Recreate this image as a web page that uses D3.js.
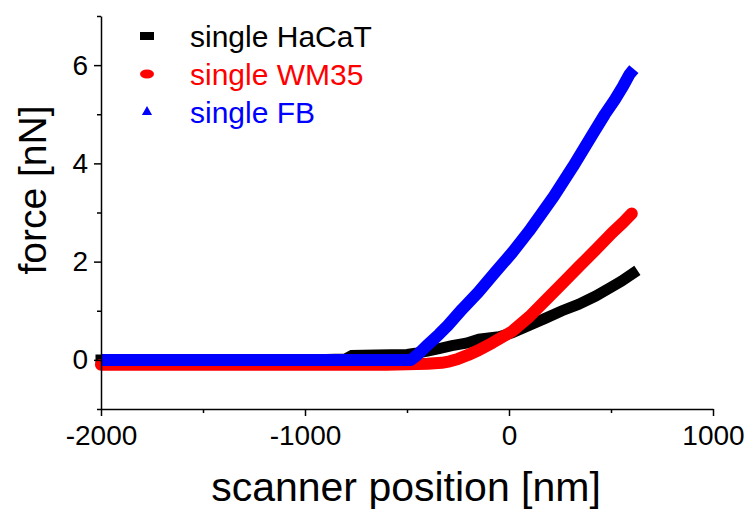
<!DOCTYPE html>
<html>
<head>
<meta charset="utf-8">
<script src="https://cdn.jsdelivr.net/npm/d3@7"></script>
<style>
  body { margin: 0; background: #fff; }
  svg text { font-family: "Liberation Sans", Arial, sans-serif; }
</style>
</head>
<body>
<svg id="chart" width="750" height="512"></svg>
<script>
// single HaCaT (black squares)
const hacatX = [-2000, -1800, -1500, -1200, -1000, -800, -770, -650, -500, -450, -400, -343, -280, -210, -147, -49, 15, 98, 180, 260, 340, 425, 500, 550, 607]
const hacatY = [0, 0, 0, 0, 0, 0.02, 0.09, 0.1, 0.11, 0.14, 0.18, 0.23, 0.29, 0.34, 0.42, 0.47, 0.55, 0.7, 0.85, 1.0, 1.13, 1.3, 1.48, 1.6, 1.76]

// single WM35 (red circles)
const wm35X = [-2000, -1800, -1600, -1400, -1200, -1000, -800, -600, -400, -330, -290, -250, -200, -147, -80, 15, 100, 181, 260, 343, 425, 504, 560, 602]
const wm35Y = [-0.1, -0.1, -0.1, -0.1, -0.1, -0.1, -0.1, -0.1, -0.08, -0.06, -0.03, 0.02, 0.1, 0.2, 0.35, 0.58, 0.88, 1.22, 1.55, 1.9, 2.24, 2.58, 2.8, 2.98]

// single FB (blue triangles)
const fbX = [-2000, -1800, -1500, -1200, -1000, -800, -600, -480, -450, -400, -343, -300, -230, -150, -64, 15, 98, 160, 220, 313, 411, 470, 519, 560, 592, 612]
const fbY = [0, 0, 0, 0, 0, 0, 0, 0, 0.1, 0.3, 0.52, 0.7, 1.03, 1.38, 1.8, 2.18, 2.62, 2.98, 3.33, 3.93, 4.6, 5.0, 5.3, 5.58, 5.82, 5.92]

const seriesNames = ['single HaCaT', 'single WM35', 'single FB']
const seriesColors = ['#000000', '#ff0000', '#0000ff']

const xMajor = [-2000, -1000, 0, 1000]
const xMinor = [-1500, -500, 500]
const yMajor = [0, 2, 4, 6]
const yMinor = [-1, 1, 3, 5, 7]

const svg = d3.select('#chart')

let x = d3.scaleLinear().domain([-2000, 1000]).range([101, 713])
let y = d3.scaleLinear().domain([-1, 7]).range([409, 16])

let line = d3.line()
  .x(d => x(d[0]))
  .y(d => y(d[1]))

let series = [
  { pts: d3.zip(hacatX, hacatY), color: seriesColors[0], width: 11, cap: 'square', join: 'miter' },
  { pts: d3.zip(wm35X, wm35Y), color: seriesColors[1], width: 12, cap: 'round', join: 'round' },
  { pts: d3.zip(fbX, fbY), color: seriesColors[2], width: 12, cap: 'butt', join: 'round' }
]

svg.append('g')
  .selectAll('path')
  .data(series)
  .enter()
  .append('path')
  .attr('d', d => line(d.pts))
  .attr('fill', 'none')
  .attr('stroke', d => d.color)
  .attr('stroke-width', d => d.width)
  .attr('stroke-linecap', d => d.cap)
  .attr('stroke-linejoin', d => d.join)

// axes
let xAxis = svg.append('g')
  .attr('transform', 'translate(0,409)')
  .call(d3.axisBottom(x).tickValues(xMajor).tickSize(7).tickSizeOuter(0).tickPadding(9)
    .tickFormat(d => String(d)))
xAxis.append('g')
  .call(d3.axisBottom(x).tickValues(xMinor).tickSize(4).tickFormat(''))
  .select('.domain').remove()

let yAxis = svg.append('g')
  .attr('transform', 'translate(101,0)')
  .call(d3.axisLeft(y).tickValues(yMajor).tickSize(7).tickSizeOuter(0).tickPadding(6)
    .tickFormat(d => String(d)))
yAxis.append('g')
  .call(d3.axisLeft(y).tickValues(yMinor).tickSize(4).tickFormat(''))
  .select('.domain').remove()

svg.selectAll('.domain').attr('stroke-width', 1.5)
svg.selectAll('.tick line').attr('stroke-width', 1.5)
svg.selectAll('.tick text')
  .attr('font-size', 28)
  .attr('font-family', '"Liberation Sans", Arial, sans-serif')
  .attr('fill', '#000')

svg.append('text')
  .attr('x', 406)
  .attr('y', 501)
  .attr('text-anchor', 'middle')
  .attr('font-size', 41)
  .text('scanner position [nm]')

svg.append('text')
  .attr('transform', 'translate(46,190) rotate(-90)')
  .attr('text-anchor', 'middle')
  .attr('font-size', 39)
  .text('force [nN]')

// legend
let legendY = [36, 74, 112]
let legend = svg.append('g')

legend.append('rect')
  .attr('x', 140).attr('y', legendY[0] - 4)
  .attr('width', 14).attr('height', 8)
  .attr('fill', seriesColors[0])
legend.append('ellipse')
  .attr('cx', 147).attr('cy', legendY[1])
  .attr('rx', 7).attr('ry', 4.5)
  .attr('fill', seriesColors[1])
legend.append('path')
  .attr('d', d3.symbol().type(d3.symbolTriangle).size(45))
  .attr('transform', `translate(147,${legendY[2]})`)
  .attr('fill', seriesColors[2])

legend.selectAll('text')
  .data(seriesNames)
  .enter()
  .append('text')
  .attr('x', 190)
  .attr('y', (d, i) => legendY[i] + 11)
  .attr('font-size', 30)
  .attr('fill', (d, i) => seriesColors[i])
  .text(d => d)
</script>
</body>
</html>
